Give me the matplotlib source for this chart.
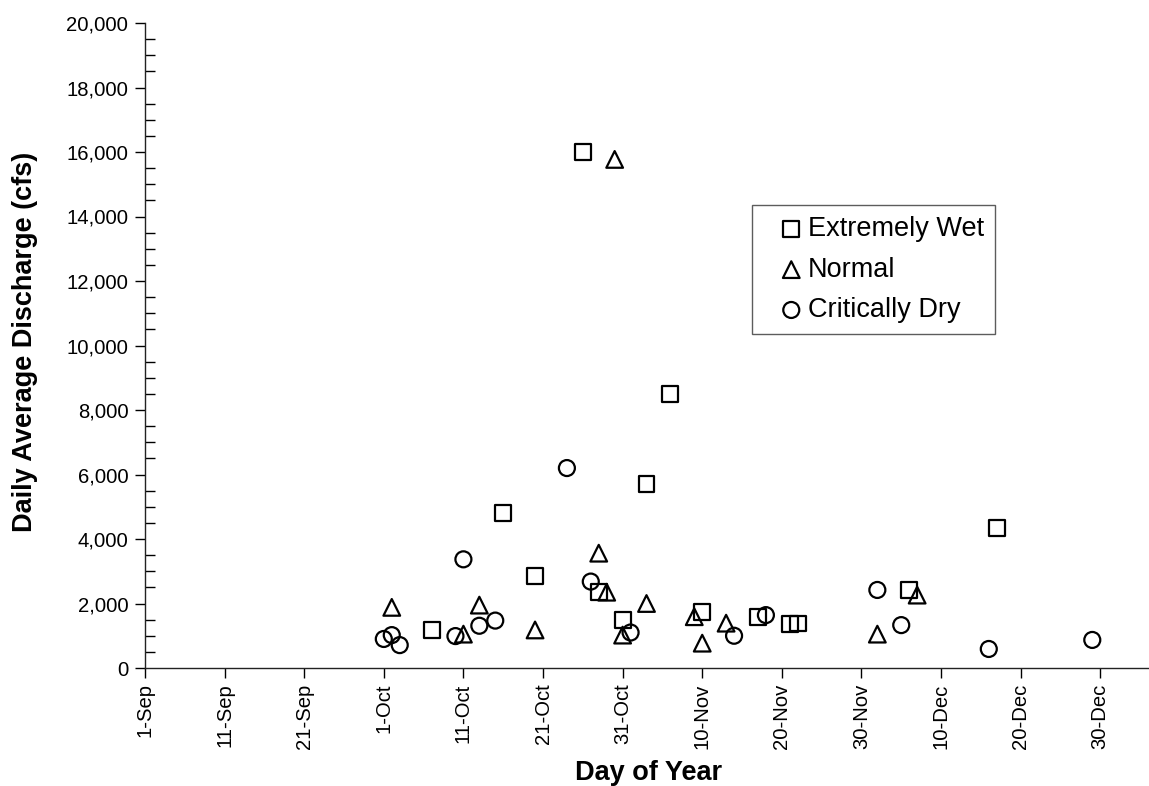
import matplotlib
matplotlib.use("Agg")
import matplotlib.pyplot as plt
import matplotlib.dates as mdates
from matplotlib.ticker import MultipleLocator, FuncFormatter
import pandas as pd

plt.rcParams["font.family"] = ["Liberation Sans", "DejaVu Sans"]

# Daily average discharge (cfs) for three water-year types
wet_dates = ["2001-10-07", "2001-10-16", "2001-10-20", "2001-10-26", "2001-10-28",
             "2001-10-31", "2001-11-03", "2001-11-06", "2001-11-10", "2001-11-17",
             "2001-11-21", "2001-11-22", "2001-12-06", "2001-12-17"]
wet_cfs = [1180, 4800, 2850, 16000, 2370, 1490, 5700, 8500, 1730, 1570,
           1370, 1380, 2420, 4340]

normal_dates = ["2001-10-02", "2001-10-11", "2001-10-13", "2001-10-20", "2001-10-28",
                "2001-10-29", "2001-10-30", "2001-10-31", "2001-11-03", "2001-11-09",
                "2001-11-10", "2001-11-13", "2001-12-02", "2001-12-07"]
normal_cfs = [1880, 1050, 1950, 1180, 3560, 2350, 15770, 1020, 2000, 1590,
              770, 1390, 1050, 2260]

dry_dates = ["2001-10-01", "2001-10-02", "2001-10-03", "2001-10-10", "2001-10-11",
             "2001-10-13", "2001-10-15", "2001-10-24", "2001-10-27", "2001-11-01",
             "2001-11-14", "2001-11-18", "2001-12-02", "2001-12-05", "2001-12-16",
             "2001-12-29"]
dry_cfs = [900, 1020, 710, 990, 3370, 1310, 1470, 6200, 2680, 1100,
           1000, 1640, 2420, 1330, 590, 870]

series_names = ["Extremely Wet", "Normal", "Critically Dry"]
tick_dates = pd.date_range("2001-09-01", periods=13, freq="10D")
x_start, x_end = pd.Timestamp("2001-09-01"), pd.Timestamp("2002-01-05")

fig = plt.figure(figsize=(11.49, 7.86), dpi=100)
ax = fig.add_axes([145 / 1149, 1 - 668 / 786, 1003 / 1149, (668 - 23) / 786])

marker_style = dict(facecolors="none", edgecolors="black", linewidths=1.6, zorder=3)
ax.scatter(pd.to_datetime(wet_dates), wet_cfs, marker="s", s=11.5 ** 2,
           label=series_names[0], **marker_style)
ax.scatter(pd.to_datetime(normal_dates), normal_cfs, marker="^", s=12 ** 2,
           label=series_names[1], **marker_style)
ax.scatter(pd.to_datetime(dry_dates), dry_cfs, marker="o", s=11.5 ** 2,
           label=series_names[2], **marker_style)

ax.set_xlim(x_start, x_end)
ax.set_ylim(0, 20000)

# y axis: major ticks outward every 2,000, minor ticks inward every 500
ax.yaxis.set_major_locator(MultipleLocator(2000))
ax.yaxis.set_minor_locator(MultipleLocator(500))
ax.yaxis.set_major_formatter(FuncFormatter(lambda v, p: f"{int(v):,}"))
ax.tick_params(axis="y", which="major", direction="out", length=7, width=1,
               labelsize=14.6, pad=5)
ax.tick_params(axis="y", which="minor", direction="in", length=7, width=1)

# x axis: a tick every 10 days
ax.set_xticks(tick_dates)
ax.xaxis.set_major_formatter(mdates.DateFormatter("%-d-%b"))
ax.tick_params(axis="x", which="major", direction="out", length=7, width=1,
               labelsize=14.6, pad=4, labelrotation=90)

for side in ("top", "right"):
    ax.spines[side].set_visible(False)
for side in ("left", "bottom"):
    ax.spines[side].set_linewidth(1)
    ax.spines[side].set_color("#222222")

fig.text(649 / 1149, 1 - 773 / 786, "Day of Year", ha="center", va="center",
         fontsize=19.5, fontweight="bold")
fig.text(25 / 1149, 1 - 342 / 786, "Daily Average Discharge (cfs)", ha="center",
         va="center", rotation=90, fontsize=19.5, fontweight="bold")

leg = ax.legend(loc="upper left", bbox_to_anchor=(752 / 1149, 1 - 205 / 786),
                bbox_transform=fig.transFigure, borderaxespad=0, frameon=True,
                fancybox=False, fontsize=19.5, handletextpad=-0.43, handlelength=2.06,
                borderpad=0.42, labelspacing=0.53, markerscale=1.0)
leg.get_frame().set_edgecolor("#333333")
leg.get_frame().set_linewidth(1)

fig.savefig("out.png", dpi=100)
